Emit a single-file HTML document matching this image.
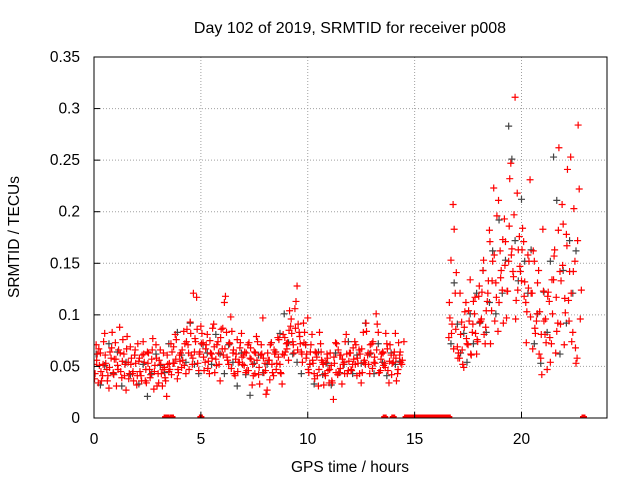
<!DOCTYPE html>
<html><head><meta charset="utf-8">
<style>
body{margin:0;background:#fff;}
svg{display:block;font-family:"Liberation Sans",sans-serif;}
</style></head>
<body>
<svg id="chart" width="640" height="480" viewBox="0 0 640 480">
<defs><clipPath id="pc"><rect x="94" y="57" width="513" height="361"/></clipPath></defs>
<rect width="640" height="480" fill="#fff"/>
<g id="grid"></g>
<g id="marks" clip-path="url(#pc)"></g>
<rect x="94" y="57" width="513" height="361" fill="none" stroke="#000" stroke-width="1"/>
<g id="ticks"></g>
<text x="350" y="33" text-anchor="middle" font-size="16">Day 102 of 2019, SRMTID for receiver p008</text>
<text x="350" y="472" text-anchor="middle" font-size="15.5">GPS time / hours</text>
<text x="19" y="237" text-anchor="middle" font-size="15.5" transform="rotate(-90 19 237)">SRMTID / TECUs</text>
</svg>
<script>
const xTicks=[0,5,10,15,20];
const yTicks=[0,0.05,0.1,0.15,0.2,0.25,0.3,0.35];
const yTickLabels=["0","0.05","0.1","0.15","0.2","0.25","0.3","0.35"];
const redA=[.052,.071,.034,.063,.041,.082,.047,.029,.058,.044,.073,.051,.088,.039,.062,.027,.054,.069,.043,.061,.032,.055,.041,.074,.036,.064,.047,.057,.028,.071,.043,.066,.031,.049,.021,.045,.072,.053,.081,.038,.061,.049,.084,.043,.071,.093,.052,.064,.117,.046,.089,.073,.054,.081,.043,.062,.091,.057,.074,.036,.067,.112,.083,.052,.098,.063,.041,.076,.054,.082,.061,.044,.071,.058,.032,.064,.079,.042,.061,.097,.053,.027,.056,.073,.041,.064,.078,.052,.033,.061,.072,.056,.089,.074,.106,.128,.083,.064,.092,.071,.097,.052,.081,.043,.063,.031,.072,.054,.043,.062,.034,.051,.018,.073,.042,.061,.033,.054,.081,.046,.063,.052,.074,.041,.066,.034,.083,.052,.061,.043,.072,.054,.101,.083,.046,.064,.053,.072,.034,.061,.054,.082,.043,.061,.052,.074];
const redAStart=0.0, redAStep=0.1;
const red2A=[.043,.062,.051,.036,.074,.053,.041,.064,.083,.057,.031,.066,.045,.076,.052,.079,.043,.058,.036,.053,.072,.045,.061,.054,.034,.063,.042,.077,.051,.031,.056,.043,.063,.036,.052,.047,.064,.053,.076,.044,.063,.056,.072,.086,.047,.061,.121,.074,.053,.064,.082,.046,.071,.055,.063,.087,.044,.071,.052,.086,.061,.118,.056,.072,.084,.043,.062,.054,.073,.052,.064,.046,.073,.057,.041,.063,.074,.033,.062,.044,.023,.056,.071,.044,.062,.053,.076,.043,.081,.064,.073,.104,.082,.063,.113,.091,.072,.054,.083,.062,.044,.071,.053,.064,.041,.083,.056,.032,.054,.046,.063,.034,.053,.072,.044,.061,.052,.074,.043,.063,.046,.057,.071,.053,.062,.044,.056,.084,.052,.063,.074,.053,.091,.044,.062,.051,.082,.046,.071,.053,.064,.036,.073,.054];
const red2AStart=0.05, red2AStep=0.1;
const red3A=[.038,.056,.067,.045,.052,.061,.036,.049,.068,.042,.057,.047,.063,.055,.041,.067,.038,.052,.045,.066,.041,.058,.036,.062,.047,.053,.039,.066,.045,.058,.034,.052,.047,.039,.061,.053,.042,.069,.057,.047,.055,.066,.051,.074,.063,.082,.058,.077,.086,.062,.072,.059,.067,.048,.075,.058,.069,.051,.063,.078,.087,.067,.059,.073,.048,.066,.057,.045,.068,.059,.051,.063,.046,.068,.052,.043,.056,.049,.071,.058,.046,.063,.037,.052,.066,.047,.059,.044,.062,.078,.067,.085,.096,.071,.087,.066,.079,.062,.073,.058,.047,.064,.056,.038,.059,.047,.064,.052,.041,.058,.047,.036,.059,.044,.066,.048,.057,.043,.062,.055,.047,.068,.052,.058,.043,.067,.054,.092,.063,.071,.048,.059,.066,.044,.057,.063,.049,.067,.055,.042,.061,.058,.047,.064,.056];
const red3AStart=0.025, red3AStep=0.1;
const redB=[.078,.153,.207,.121,.069,.058,.093,.049,.112,.071,.134,.083,.101,.062,.118,.094,.143,.072,.113,.182,.104,.223,.131,.084,.162,.124,.193,.097,.152,.247,.142,.311,.218,.176,.133,.171,.112,.158,.231,.121,.152,.094,.143,.058,.183,.081,.047,.113,.072,.134,.063,.092,.142,.207,.071,.178,.114,.253,.083,.152,.058,.222,.124];
const redBStart=16.6, redBStep=0.1;
const red2B=[.097,.091,.183,.141,.063,.081,.052,.103,.072,.094,.061,.113,.082,.074,.093,.122,.081,.104,.133,.072,.152,.094,.196,.112,.143,.092,.171,.123,.232,.164,.197,.114,.163,.142,.184,.132,.103,.152,.121,.162,.082,.131,.103,.042,.094,.073,.122,.054,.101,.163,.084,.262,.133,.188,.102,.241,.142,.074,.203,.053,.284,.096];
const red2BStart=16.65, red2BStep=0.1;
const red3B=[.112,.082,.067,.086,.058,.121,.066,.088,.077,.104,.062,.091,.117,.076,.128,.096,.153,.088,.121,.171,.133,.158,.117,.211,.136,.173,.148,.123,.186,.158,.137,.096,.124,.147,.163,.118,.073,.126,.098,.067,.087,.101,.062,.081,.123,.096,.118,.078,.134,.157,.117,.182,.091,.148,.116,.167,.094,.121,.142,.068,.172];
const red3BStart=16.625, red3BStep=0.1;
const blackA=[.062,.032,.051,.072,.043,.064,.031,.054,.042,.061,.033,.052,.021,.043,.062,.051,.044,.072,.053,.083,.061,.054,.092,.052,.043,.071,.063,.052,.081,.062,.043,.071,.054,.031,.063,.042,.022,.053,.061,.044,.052,.073,.064,.082,.101,.073,.062,.054,.043,.071,.052,.033,.064,.042,.053,.032,.063,.044,.052,.074,.043,.061,.053,.092,.062,.043,.072,.054,.041,.063,.052,.055];
const blackAStart=0.1, blackAStep=0.2;
const blackB=[.072,.131,.091,.063,.082,.054,.101,.072,.121,.092,.143,.083,.112,.162,.101,.192,.121,.153,.283,.251,.172,.133,.212,.152,.121,.163,.072,.101,.053,.122,.083,.152,.253,.211,.062,.143,.092,.172,.121,.162];
const blackBStart=16.7, blackBStep=0.15;
const zeroTimes=[3.35,3.45,3.65,5.0,13.6,14.0,14.6,14.7,14.8,14.9,15.0,15.1,15.2,15.3,15.4,15.5,15.6,15.7,15.8,15.9,16.0,16.1,16.2,16.3,16.4,16.5,16.6,22.9];

const NS="http://www.w3.org/2000/svg";
const X0=94,X1=607,Y0=418,Y1=57;
function xs(t){return X0+(t/24)*(X1-X0);}
function ys(v){return Y0-(v/0.35)*(Y0-Y1);}
const grid=document.getElementById('grid'),ticks=document.getElementById('ticks'),marks=document.getElementById('marks');
function line(p,x1,y1,x2,y2,st,dash){const l=document.createElementNS(NS,'line');l.setAttribute('x1',x1);l.setAttribute('y1',y1);l.setAttribute('x2',x2);l.setAttribute('y2',y2);l.setAttribute('stroke',st);if(dash)l.setAttribute('stroke-dasharray',dash);p.appendChild(l);return l;}
function txt(p,x,y,s,anchor){const t=document.createElementNS(NS,'text');t.setAttribute('x',x);t.setAttribute('y',y);t.setAttribute('font-size','15.5');t.setAttribute('text-anchor',anchor);t.setAttribute('fill','#000');t.textContent=s;p.appendChild(t);return t;}
xTicks.forEach(t=>{const x=xs(t);
 if(t>0){const g=line(grid,x,Y0,x,Y1,'#a0a0a0','1,2');}
 const k=line(ticks,x,Y0,x,Y0-6,'#000');
 const l=txt(ticks,x,Y0+26,String(t),'middle');});
yTicks.forEach((v,i)=>{const y=ys(v);
 if(v>0&&v<0.35){const g=line(grid,X0,y,X1,y,'#a0a0a0','1,2');}
 const k=line(ticks,X0,y,X0+6,y,'#000');
 const l=txt(ticks,X0-14,y+5,yTickLabels[i],'end');});
function plus(t,v,col,name,w){const x=xs(t),y=ys(v);const p=document.createElementNS(NS,'path');
 p.setAttribute('d',`M${x-3.5} ${y}H${x+3.5}M${x} ${y-3.5}V${y+3.5}`);p.setAttribute('stroke',col);p.setAttribute('stroke-width',w||'1.2');
 
 
 marks.appendChild(p);}
function series(arr,start,step,col,name){arr.forEach((v,i)=>plus(start+i*step,v,col,name));}
series(blackA,blackAStart,blackAStep,'#444','black-point');
series(blackB,blackBStart,blackBStep,'#444','black-point');
series(redA,redAStart,redAStep,'#f00','red-point');
series(red2A,red2AStart,red2AStep,'#f00','red-point');
series(red3A,red3AStart,red3AStep,'#f00','red-point');
series(redB,redBStart,redBStep,'#f00','red-point');
series(red2B,red2BStart,red2BStep,'#f00','red-point');
series(red3B,red3BStart,red3BStep,'#f00','red-point');
zeroTimes.forEach(t=>plus(t,0,'#f00','zero-point','4'));
</script>
</body></html>
